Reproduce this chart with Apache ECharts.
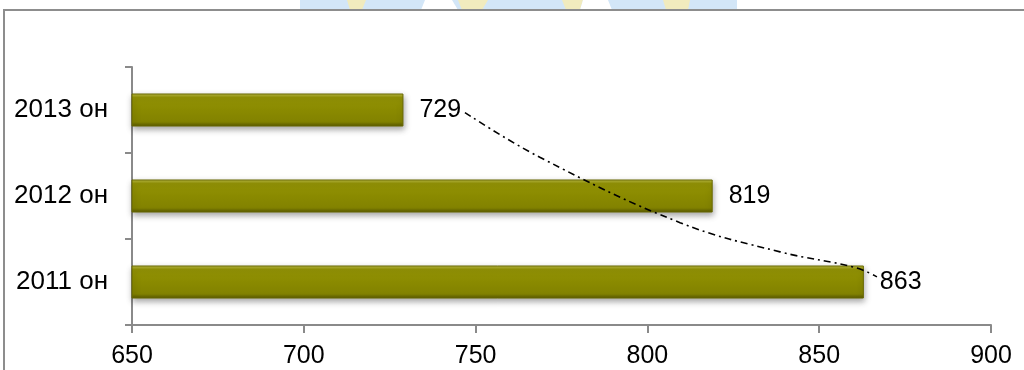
<!DOCTYPE html>
<html>
<head>
<meta charset="utf-8">
<style>
  html, body { margin: 0; padding: 0; background: #ffffff; }
  #chart { width: 1024px; height: 370px; }
</style>
<script src="https://cdn.jsdelivr.net/npm/echarts@6/dist/echarts.min.js"></script>
</head>
<body>
<div id="chart"></div>
<script>
// Categories, bottom to top
const categories = ['2011 он', '2012 он', '2013 он'];
// Bar values
const values = [863, 819, 729];
// Trend curve: value along the x axis, position on the category scale (0 = 2011, 2 = 2013)
const trendValue = [746.9, 768.7, 809.5, 838.6, 860.4, 866.8];
const trendPos = [1.97, 1.45, 0.69, 0.35, 0.17, 0.06];
// Value-axis ticks
const axisMin = 650, axisMax = 900, axisStep = 50;

const FONT = 'Liberation Sans, Arial, sans-serif';
const AXIS_GREY = '#8a8a8a';

const chart = echarts.init(document.getElementById('chart'), null, { renderer: 'canvas' });

// bevelled olive fill: light top edge, flat body, dark lower edge
const barColor = new echarts.graphic.LinearGradient(0, 0, 0, 1, [
  { offset: 0, color: '#bdbd48' },
  { offset: 0.12, color: '#939306' },
  { offset: 0.5, color: '#8a8a00' },
  { offset: 0.86, color: '#828200' },
  { offset: 1, color: '#575700' }
]);

chart.setOption({
  animation: false,
  backgroundColor: '#ffffff',
  textStyle: { fontFamily: FONT },
  graphic: [
    // faint emblem strip above the frame
    { type: 'rect', silent: true, z: -10, shape: { x: 300, y: 0, width: 437, height: 10 }, style: { fill: '#d3e6f7' } },
    { type: 'polygon', silent: true, z: -9, shape: { points: [[347, 0], [366, 0], [362, 10], [350, 10]] }, style: { fill: '#f1ebbe' } },
    { type: 'polygon', silent: true, z: -9, shape: { points: [[425, 0], [452, 0], [458, 10], [421, 10]] }, style: { fill: '#ffffff' } },
    { type: 'polygon', silent: true, z: -9, shape: { points: [[458, 0], [488, 0], [482, 10], [462, 10]] }, style: { fill: '#f1ebbe' } },
    { type: 'polygon', silent: true, z: -9, shape: { points: [[562, 0], [583, 0], [580, 10], [566, 10]] }, style: { fill: '#f1ebbe' } },
    { type: 'polygon', silent: true, z: -9, shape: { points: [[583, 0], [608, 0], [612, 10], [580, 10]] }, style: { fill: '#ffffff' } },
    { type: 'polygon', silent: true, z: -9, shape: { points: [[663, 0], [690, 0], [688, 10], [666, 10]] }, style: { fill: '#f1ebbe' } },
    // outer frame
    { type: 'rect', silent: true, z: -5, shape: { x: 4, y: 10, width: 1100, height: 420 }, style: { fill: '#ffffff', stroke: '#8d8d8d', lineWidth: 2 } }
  ],
  grid: { left: 132, right: 33, top: 67, bottom: 45, containLabel: false },
  xAxis: {
    type: 'value',
    min: axisMin,
    max: axisMax,
    interval: axisStep,
    axisLine: { show: true, onZero: false, lineStyle: { color: AXIS_GREY, width: 2 } },
    axisTick: { show: true, length: 8, lineStyle: { color: AXIS_GREY, width: 2 } },
    splitLine: { show: false },
    axisLabel: { color: '#000', fontSize: 25, fontFamily: FONT, margin: 19 }
  },
  yAxis: [
    {
      type: 'category',
      data: categories,
      axisLine: { show: true, onZero: false, lineStyle: { color: AXIS_GREY, width: 2 } },
      axisTick: { show: true, length: 7, lineStyle: { color: AXIS_GREY, width: 2 } },
      axisLabel: { color: '#000', fontSize: 26, fontFamily: FONT, margin: 24 }
    },
    {
      type: 'value',
      min: -0.5,
      max: 2.5,
      show: false
    }
  ],
  series: [
    {
      type: 'bar',
      data: values,
      barWidth: 33,
      itemStyle: {
        color: barColor,
        borderColor: '#686800',
        borderWidth: 1,
        shadowColor: 'rgba(0,0,0,0.35)',
        shadowBlur: 6,
        shadowOffsetY: 3,
        shadowOffsetX: 1
      },
      label: {
        show: true,
        position: 'right',
        distance: 16,
        color: '#000',
        fontSize: 25,
        fontFamily: FONT
      }
    },
    {
      type: 'line',
      yAxisIndex: 1,
      data: trendValue.map((v, i) => [v, trendPos[i]]),
      smooth: 0.4,
      symbol: 'none',
      z: 5,
      lineStyle: { color: '#000', width: 1.6, type: [7, 4, 2, 4] }
    }
  ]
});
</script>
</body>
</html>
